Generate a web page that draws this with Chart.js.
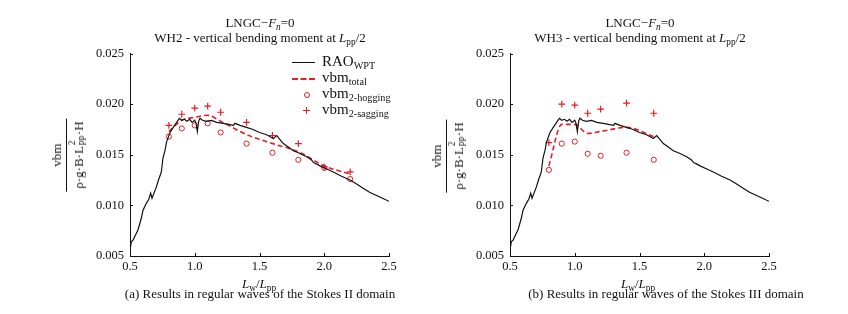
<!DOCTYPE html>
<html>
<head>
<meta charset="utf-8">
<script src="https://cdn.jsdelivr.net/npm/chart.js@4"></script>
<style>
body{margin:0;background:#fff;}
#wrap{position:relative;width:848px;height:314px;background:#fff;font-family:"Liberation Serif","DejaVu Serif",serif;color:#111;overflow:hidden;}
canvas{position:absolute;top:40px;}
.t{position:absolute;text-align:center;white-space:nowrap;}
sub{font-size:72%;vertical-align:-0.3em;line-height:0;}
.title{font-size:13px;line-height:15px;top:15px;width:320px;}
.ylab{position:absolute;font-size:13px;display:flex;flex-direction:column;align-items:center;transform:translate(-50%,-50%) rotate(-90deg);white-space:nowrap;}
.ylab .num{padding:0 2px 1px;}
.ylab .den{border-top:1px solid #111;padding:3px 3px 0;line-height:16px;}
.ss{display:inline-block;position:relative;width:11px;height:1em;}
.ss span{position:absolute;left:1px;font-size:72%;line-height:1;}
.ss .up{top:-2px;}
.ss .dn{top:7px;}
.xlab{font-size:13px;top:276px;width:120px;}
.cap{font-size:13px;top:286px;width:400px;}
.leg{position:absolute;font-size:15px;line-height:16px;white-space:nowrap;z-index:2;}
.leg sub{font-size:68%;}
.sym{position:absolute;z-index:2;}
</style>
</head>
<body>
<div id="wrap">
<canvas id="chartA" width="320" height="240" style="left:80px"></canvas>
<canvas id="chartB" width="320" height="240" style="left:460px"></canvas>

<div class="t title" style="left:100px">LNGC−<i>F</i><sub><i>n</i></sub>=0<br>WH2 - vertical bending moment at <i>L</i><sub>pp</sub>/2</div>
<div class="t title" style="left:480px">LNGC−<i>F</i><sub><i>n</i></sub>=0<br>WH3 - vertical bending moment at <i>L</i><sub>pp</sub>/2</div>

<div class="ylab" style="left:68px;top:155px"><span class="num">vbm</span><span class="den">ρ·g·B·L<span class="ss"><span class="up">2</span><span class="dn">pp</span></span>·H</span></div>
<div class="ylab" style="left:448px;top:156px"><span class="num">vbm</span><span class="den">ρ·g·B·L<span class="ss"><span class="up">2</span><span class="dn">pp</span></span>·H</span></div>

<div class="t xlab" style="left:199px"><i>L</i><sub>w</sub>/<i>L</i><sub>pp</sub></div>
<div class="t xlab" style="left:578px"><i>L</i><sub>w</sub>/<i>L</i><sub>pp</sub></div>

<div class="t cap" style="left:60px">(a) Results in regular waves of the Stokes II domain</div>
<div class="t cap" style="left:466px">(b) Results in regular waves of the Stokes III domain</div>

<div class="sym" style="left:292px;top:62px;width:23px;border-top:1.3px solid #111"></div>
<div class="leg" style="left:322px;top:53px">RAO<sub>WPT</sub></div>
<div class="sym" style="left:292px;top:78px;width:23px;border-top:2px dashed #e41e26"></div>
<div class="leg" style="left:322px;top:69px">vbm<sub>total</sub></div>
<div class="sym" style="left:304px;top:92px;width:4px;height:4px;border:1px solid #e41e26;border-radius:50%"></div>
<div class="leg" style="left:322px;top:85px">vbm<sub>2-hogging</sub></div>
<div class="sym" style="left:303px;top:110px;width:7px;border-top:1.2px solid #e41e26"></div>
<div class="sym" style="left:306px;top:107px;height:7px;border-left:1.2px solid #e41e26"></div>
<div class="leg" style="left:322px;top:101px">vbm<sub>2-sagging</sub></div>
</div>

<script>
// RAO_WPT curve (same in both panels)
const raoX=[0.500,0.510,0.525,0.536,0.562,0.587,0.600,0.626,0.645,0.660,0.670,0.703,0.720,0.742,0.755,0.770,0.783,0.809,0.834,0.860,0.881,0.900,0.920,0.940,0.960,0.980,1.000,1.010,1.020,1.030,1.040,1.060,1.090,1.130,1.170,1.220,1.260,1.300,1.310,1.350,1.400,1.450,1.500,1.550,1.580,1.607,1.633,1.684,1.720,1.761,1.800,1.864,1.900,1.920,1.940,1.967,2.020,2.070,2.130,2.199,2.250,2.300,2.350,2.400,2.450,2.500];
const raoY=[0.0056,0.0064,0.0066,0.0069,0.0076,0.0087,0.0095,0.0102,0.0106,0.0112,0.0107,0.0118,0.0125,0.0133,0.0147,0.0154,0.0163,0.0172,0.0177,0.0182,0.0186,0.0184,0.0185,0.0183,0.0185,0.0182,0.0184,0.0181,0.0173,0.0183,0.0186,0.0184,0.0183,0.0184,0.0182,0.0181,0.0180,0.0179,0.0181,0.0179,0.0177,0.0175,0.0172,0.0170,0.0168,0.0166,0.0169,0.0161,0.0158,0.0154,0.0152,0.0148,0.0145,0.0142,0.0141,0.0139,0.0136,0.0133,0.0129,0.0125,0.0121,0.0117,0.0113,0.0110,0.0107,0.0104];

// (a) Stokes II
const lwA=[0.8,0.9,1.0,1.1,1.2,1.4,1.6,1.8,2.0,2.2];
const totalA=[0.0173,0.0184,0.0187,0.0189,0.0183,0.0170,0.0161,0.0153,0.0139,0.0131];
const hogA=[0.0168,0.0176,0.0179,0.0181,0.0172,0.0161,0.0152,0.0145,0.0137,0.0126];
const sagA=[0.0179,0.0190,0.0196,0.0198,0.0192,0.0182,0.0169,0.0161,0.0138,0.0133];

// (b) Stokes III
const lwB=[0.8,0.9,1.0,1.1,1.2,1.4,1.61];
const totalB=[0.0139,0.0180,0.0180,0.0171,0.0173,0.0177,0.0168];
const hogB=[0.0135,0.0161,0.0163,0.0151,0.0149,0.0152,0.0145];
const sagB=[0.0162,0.0200,0.0199,0.0191,0.0195,0.0201,0.0191];

const xTicks=[0.5,1.0,1.5,2.0,2.5];
const yTicks=[0.005,0.010,0.015,0.020,0.025];

const red="#e41e26";
const tickFont={family:"Liberation Serif",size:12.5};

function pts(xs,ys){
return xs.map((x,i)=>({x:x,y:ys[i]}));
}

// short tick marks pointing into the plot
const inwardTicks={
id:'inwardTicks',
afterDraw(c){
const {ctx,chartArea:a,scales:{x,y}}=c;
ctx.save();
ctx.strokeStyle="#111";
ctx.lineWidth=1;
ctx.beginPath();
x.ticks.forEach(t=>{
let px=Math.round(x.getPixelForValue(t.value))+0.5;
ctx.moveTo(px,a.bottom);ctx.lineTo(px,a.bottom-3);
});
y.ticks.forEach(t=>{
let py=Math.round(y.getPixelForValue(t.value))+0.5;
ctx.moveTo(a.left,py);ctx.lineTo(a.left+3,py);
});
ctx.stroke();
ctx.restore();
}
};

function makeChart(id,lw,total,hog,sag){

new Chart(document.getElementById(id),{
type:'line',
data:{
datasets:[
{
label:"RAO_WPT",
data:pts(raoX,raoY),
borderColor:"#111",
borderWidth:1.2,
pointRadius:0,
tension:0
},
{
label:"vbm_total",
data:pts(lw,total),
borderColor:red,
borderWidth:1.6,
borderDash:[5,3],
pointRadius:0,
cubicInterpolationMode:'monotone'
},
{
label:"vbm_2-hogging",
data:pts(lw,hog),
showLine:false,
pointStyle:'circle',
pointRadius:2.6,
borderWidth:1,
borderColor:red,
backgroundColor:'rgba(0,0,0,0)'
},
{
label:"vbm_2-sagging",
data:pts(lw,sag),
showLine:false,
pointStyle:'cross',
pointRadius:3.4,
borderWidth:1.2,
borderColor:red
}
]
},
options:{
responsive:false,
animation:false,
layout:{padding:{left:10,right:11,top:13,bottom:4}},
plugins:{legend:{display:false},tooltip:{enabled:false}},
scales:{
x:{
type:'linear',
min:0.5,max:2.5,
afterBuildTicks:s=>{s.ticks=xTicks.map(v=>({value:v}));},
afterFit:s=>{s.height=20;},
grid:{display:false,drawTicks:false,tickLength:0},
border:{display:true,color:"#111",width:1},
ticks:{font:tickFont,color:"#111",padding:3,maxRotation:0,callback:v=>v.toFixed(1)}
},
y:{
min:0.005,max:0.025,
afterBuildTicks:s=>{s.ticks=yTicks.map(v=>({value:v}));},
afterFit:s=>{s.width=40;},
grid:{display:false,drawTicks:false,tickLength:0},
border:{display:true,color:"#111",width:1},
ticks:{font:tickFont,color:"#111",padding:6,callback:v=>v.toFixed(3)}
}
}
},
plugins:[inwardTicks]
});

}

makeChart("chartA",lwA,totalA,hogA,sagA);
makeChart("chartB",lwB,totalB,hogB,sagB);
</script>
</body>
</html>
